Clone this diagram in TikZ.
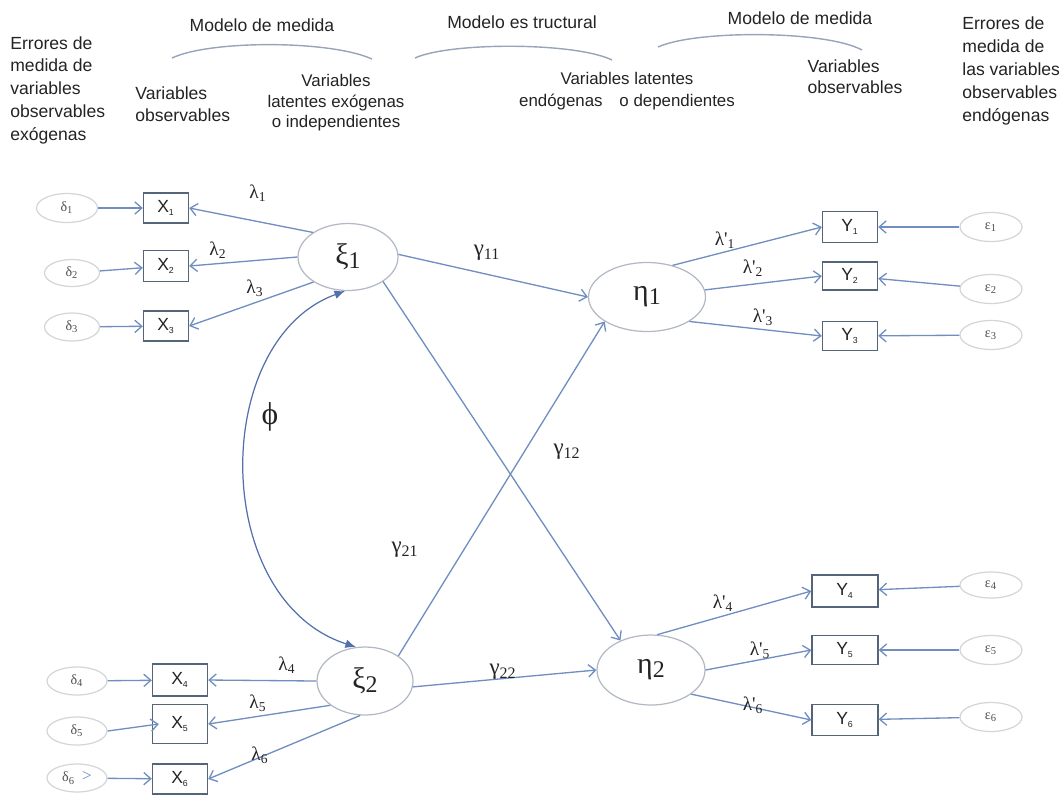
\documentclass[tikz,border=0pt]{standalone}
\usepackage{fontspec}
\setmainfont{Liberation Sans}
\newfontfamily\grk{Liberation Serif}
\usetikzlibrary{shapes.geometric,arrows.meta,calc}

\definecolor{lineblue}{RGB}{112,142,192}
\definecolor{corrblue}{RGB}{82,112,172}
\definecolor{boxedge}{RGB}{85,100,120}
\definecolor{latedge}{RGB}{178,184,196}
\definecolor{erredge}{RGB}{210,213,218}
\definecolor{arcgray}{RGB}{150,165,185}
\definecolor{ink}{RGB}{35,35,35}

\tikzset{
  hdr/.style={font=\fontsize{10}{13}\selectfont, text=ink, inner sep=0pt},
  arcline/.style={draw=arcgray, line width=0.8pt},
  link/.style={draw=lineblue, line width=0.75pt, -{Straight Barb[length=4pt,width=7pt]}},
  corr/.style={draw=corrblue, line width=0.7pt, {Latex[length=6pt,width=5pt]}-{Latex[length=6pt,width=5pt]}},
  latent/.style={ellipse, draw=latedge, line width=0.7pt, inner sep=0pt,
                 font=\grk\fontsize{17}{17}\selectfont, text=ink},
  errnode/.style={ellipse, draw=erredge, line width=0.7pt, inner sep=0pt,
                  minimum width=1.2cm, minimum height=0.56cm,
                  font=\grk\fontsize{8}{8}\selectfont, text=ink!80},
  obsbox/.style={rectangle, draw=boxedge, line width=0.8pt, inner sep=0pt,
                 font=\fontsize{10}{10}\selectfont, text=ink},
  coef/.style={font=\grk\fontsize{11}{11}\selectfont, text=ink, inner sep=1pt},
  gcoef/.style={font=\grk\fontsize{13}{13}\selectfont, text=ink, inner sep=1pt}
}
\newcommand{\obs}[2]{#1\textsubscript{\fontsize{5}{5}\selectfont #2}}
\newcommand{\lowsub}[1]{\raisebox{-0.25ex}{\fontsize{0.8em}{1em}\selectfont #1}}

\begin{document}
\begin{tikzpicture}[x=0.02cm, y=-0.02cm]
\path[use as bounding box] (0,0) rectangle (1060,796);

% ---- headings ----
\node[hdr, anchor=north west, align=left] (errx) at (10,36)
  {Errores de\\medida de\\variables\\observables\\exógenas};
\node[hdr] (mm1) at (262,25) {Modelo de medida};
\draw[arcline] (172,58) .. controls (210,40) and (330,40) .. (372,59);
\node[hdr, anchor=north west, align=left] (vobs1) at (135,86) {Variables\\observables};
\node[hdr, align=center, font=\fontsize{9.6}{11.6}\selectfont] (vlat1) at (336,103)
  {Variables\\latentes exógenas\\o independientes};
\node[hdr] (mest) at (522,22) {Modelo es tructural};
\draw[arcline] (415,58) .. controls (450,42) and (575,42) .. (612,60);
\node[hdr, align=center, font=\fontsize{9.6}{12.3}\selectfont] (vlat2) at (627,91)
  {Variables latentes\\endógenas\quad o dependientes};
\node[hdr] (mm2) at (800,18) {Modelo de medida};
\draw[arcline] (658,47) .. controls (695,30) and (825,30) .. (862,50);
\node[hdr, align=left, font=\fontsize{10}{11.8}\selectfont] (vobs2) at (855,77) {Variables\\observables};
\node[hdr, anchor=north west, align=left, font=\fontsize{10}{13.2}\selectfont] (erry) at (962,16)
  {Errores de\\medida de\\las variables\\observables\\endógenas};

% ---- latent variables ----
\node[latent, minimum width=2.0cm, minimum height=1.34cm] (xi1) at (348,257) {ξ\lowsub{1}};
\node[latent, minimum width=2.34cm, minimum height=1.38cm] (eta1) at (647,297) {η\lowsub{1}};
\node[latent, minimum width=1.92cm, minimum height=1.36cm] (xi2) at (365,681) {ξ\lowsub{2}};
\node[latent, minimum width=2.16cm, minimum height=1.4cm] (eta2) at (651,670) {η\lowsub{2}};

% ---- exogenous indicators and their errors ----
\node[obsbox, minimum width=0.9cm, minimum height=0.6cm] (x1) at (166,208) {\obs{X}{1}};
\node[obsbox, minimum width=0.9cm, minimum height=0.62cm] (x2) at (166,266) {\obs{X}{2}};
\node[obsbox, minimum width=0.9cm, minimum height=0.6cm] (x3) at (166,326) {\obs{X}{3}};
\node[obsbox, minimum width=1.1cm, minimum height=0.64cm] (x4) at (180,680) {\obs{X}{4}};
\node[obsbox, minimum width=1.1cm, minimum height=0.78cm] (x5) at (180,724) {\obs{X}{5}};
\node[obsbox, minimum width=1.1cm, minimum height=0.6cm] (x6) at (180,779) {\obs{X}{6}};

\node[errnode, minimum width=1.22cm, minimum height=0.58cm] (d1) at (67,208) {δ\textsubscript{1}};
\node[errnode, minimum width=1.1cm, minimum height=0.54cm] (d2) at (72,273) {δ\textsubscript{2}};
\node[errnode, minimum width=1.1cm, minimum height=0.56cm] (d3) at (72,327) {δ\textsubscript{3}};
\node[errnode] (d4) at (77,681) {δ\textsubscript{4}};
\node[errnode] (d5) at (77,731) {δ\textsubscript{5}};
\node[errnode] (d6) at (77,778) {δ\textsubscript{6}\enspace\textcolor{lineblue}{\fontsize{10}{10}\selectfont >}};

% ---- endogenous indicators and their errors ----
\node[obsbox, minimum width=1.1cm, minimum height=0.62cm] (y1) at (850,227) {\obs{Y}{1}};
\node[obsbox, minimum width=1.1cm, minimum height=0.56cm] (y2) at (850,276) {\obs{Y}{2}};
\node[obsbox, minimum width=1.1cm, minimum height=0.58cm] (y3) at (850,336) {\obs{Y}{3}};
\node[obsbox, minimum width=1.32cm, minimum height=0.64cm] (y4) at (845,591) {\obs{Y}{4}};
\node[obsbox, minimum width=1.32cm, minimum height=0.58cm] (y5) at (845,650) {\obs{Y}{5}};
\node[obsbox, minimum width=1.32cm, minimum height=0.62cm] (y6) at (845,720) {\obs{Y}{6}};

\node[errnode, minimum width=1.24cm, minimum height=0.58cm] (e1) at (991,227) {ε\textsubscript{1}};
\node[errnode, minimum width=1.24cm, minimum height=0.58cm] (e2) at (991,289) {ε\textsubscript{2}};
\node[errnode, minimum width=1.24cm, minimum height=0.58cm] (e3) at (991,335) {ε\textsubscript{3}};
\node[errnode, minimum width=1.24cm, minimum height=0.52cm] (e4) at (991,585) {ε\textsubscript{4}};
\node[errnode, minimum width=1.24cm, minimum height=0.58cm] (e5) at (991,650) {ε\textsubscript{5}};
\node[errnode, minimum width=1.24cm, minimum height=0.58cm] (e6) at (991,717) {ε\textsubscript{6}};

% ---- error arrows ----
\draw[link] (d1) -- (x1);
\draw[link] (d2) -- (x2);
\draw[link] (d3) -- (x3);
\draw[link] (d4) -- (x4);
\draw[link] (d5.east) -- ($(x5.west)+(7,0)$);
\draw[link] (d6) -- (x6);
\draw[link] (e1) -- (y1);
\draw[link] (e2) -- (y2);
\draw[link] (e3) -- (y3);
\draw[link] (e4) -- (y4);
\draw[link] (e5) -- (y5);
\draw[link] (e6) -- (y6);

% ---- loadings ----
\draw[link] (xi1.145) -- (x1.east);
\draw[link] (xi1.180) -- (x2.east);
\draw[link] (xi1.216) -- (x3.east);
\draw[link] (xi2.180) -- (x4.east);
\draw[link] (xi2.215) -- (x5.east);
\draw[link] (xi2.262) -- (x6.east);
\draw[link] (eta1.51) -- (y1.west);
\draw[link] (eta1.7) -- (y2.west);
\draw[link] (eta1.-30) -- (y3.west);
\draw[link] (eta2.80) -- (y4.west);
\draw[link] (eta2.0) -- (y5.west);
\draw[link] (eta2.-31) -- (y6.west);

% ---- structural paths ----
\draw[link] (xi1.3) -- (eta1.180);
\draw[link] (xi1.-35) -- (eta2.136);
\draw[link] (xi2.37) -- (eta1.210);
\draw[link] (xi2.-7) -- (eta2.180);

% ---- covariance of the exogenous latents ----
\draw[corr] (xi1.265) .. controls (210,340) and (210,600) .. (xi2.105);

% ---- coefficient labels ----
\node[coef] (l1) at (258,193) {λ\textsubscript{1}};
\node[coef] (l2) at (218,250) {λ\textsubscript{2}};
\node[coef] (l3) at (255,288) {λ\textsubscript{3}};
\node[coef] (l4) at (287,665) {λ\textsubscript{4}};
\node[coef] (l5) at (258,703) {λ\textsubscript{5}};
\node[coef] (l6) at (260,755) {λ\textsubscript{6}};
\node[coef] (lp1) at (725,240) {λ'\textsubscript{1}};
\node[coef] (lp2) at (753,268) {λ'\textsubscript{2}};
\node[coef] (lp3) at (763,317) {λ'\textsubscript{3}};
\node[coef] (lp4) at (723,603) {λ'\textsubscript{4}};
\node[coef] (lp5) at (760,650) {λ'\textsubscript{5}};
\node[coef] (lp6) at (753,705) {λ'\textsubscript{6}};
\node[gcoef] (g11) at (487,253) {γ\textsubscript{11}};
\node[gcoef] (g12) at (567,452) {γ\textsubscript{12}};
\node[gcoef] (g21) at (405,550) {γ\textsubscript{21}};
\node[gcoef] (g22) at (503,672) {γ\textsubscript{22}};
\node[gcoef, font=\grk\fontsize{18}{18}\selectfont] (phi) at (270,417) {ϕ};
\end{tikzpicture}
\end{document}
